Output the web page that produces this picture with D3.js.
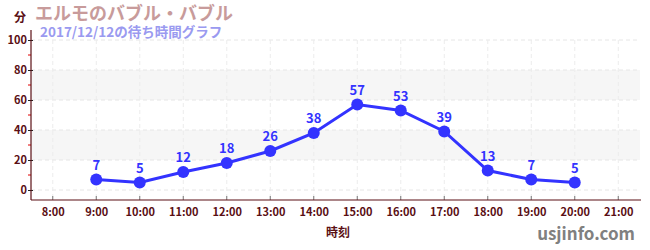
<!DOCTYPE html>
<html lang="ja">
<head>
<meta charset="UTF-8">
<title>待ち時間グラフ</title>
<script src="https://d3js.org/d3.v7.min.js"></script>
<style>
  body { margin: 0; background: #fff; }
  text { font-family: "Noto Sans CJK JP", "Noto Sans", sans-serif; font-weight: bold; }
</style>
</head>
<body>
<div id="container"></div>
<script>
  // data
  var hours = [9, 10, 11, 12, 13, 14, 15, 16, 17, 18, 19, 20];
  var waits = [7, 5, 12, 18, 26, 38, 57, 53, 39, 13, 7, 5];
  var hourTicks = [8, 9, 10, 11, 12, 13, 14, 15, 16, 17, 18, 19, 20, 21];
  var yTicks = [0, 20, 40, 60, 80, 100];
  var yMinor = [10, 30, 50, 70, 90];
  var bands = [[20, 40], [60, 80]];

  var width = 650, height = 250;
  var plot = { left: 31, right: 640, top: 40, bottom: 190, axis: 200 };
  var maroon = "#5a0f14", blue = "#3333ff";

  var svg = d3.select("#container").append("svg")
    .attr("width", width).attr("height", height);

  var x = d3.scaleLinear().domain([7.5, 21.5]).range([plot.left, plot.right]);
  var y = d3.scaleLinear().domain([0, 100]).range([plot.bottom, plot.top]);

  // bands
  svg.selectAll(".band").data(bands).enter().append("rect")
    .attr("x", plot.left).attr("width", plot.right - plot.left)
    .attr("y", d => y(d[1])).attr("height", d => y(d[0]) - y(d[1]))
    .attr("fill", "#f6f6f6");

  // grid
  svg.selectAll(".hgrid").data(yTicks).enter().append("line")
    .attr("x1", plot.left).attr("x2", plot.right)
    .attr("y1", d => y(d)).attr("y2", d => y(d))
    .attr("stroke", "#e6e6e6").attr("stroke-dasharray", "4,3");
  svg.selectAll(".vgrid").data(hourTicks).enter().append("line")
    .attr("x1", d => x(d)).attr("x2", d => x(d))
    .attr("y1", plot.top).attr("y2", plot.axis)
    .attr("stroke", "#ececec").attr("stroke-dasharray", "4,3");

  // y axis
  var yAxis = svg.append("g").attr("transform", "translate(" + plot.left + ",0)")
    .call(d3.axisLeft(y).tickValues(yTicks).tickSize(3).tickSizeOuter(0));
  yAxis.select(".domain").remove();
  yAxis.selectAll(".tick line").attr("x2", 2).attr("x1", -3).attr("stroke", "#222");
  yAxis.selectAll(".tick text").attr("fill", maroon).attr("font-size", 11)
    .attr("x", -4).style("font-family", "'Noto Sans CJK JP', sans-serif").style("font-weight", "bold");
  svg.selectAll(".minor").data(yMinor).enter().append("line")
    .attr("x1", plot.left - 3).attr("x2", plot.left)
    .attr("y1", d => y(d)).attr("y2", d => y(d))
    .attr("stroke", "#e00000");
  svg.append("line").attr("x1", plot.left).attr("x2", plot.left)
    .attr("y1", 30).attr("y2", plot.axis).attr("stroke", maroon).attr("stroke-width", 1.2);

  // x axis
  var xAxis = svg.append("g").attr("transform", "translate(0," + plot.axis + ")")
    .call(d3.axisBottom(x).tickValues(hourTicks).tickSize(0).tickPadding(8)
      .tickFormat(d => d + ":00"));
  xAxis.select(".domain").remove();
  xAxis.selectAll(".tick text").attr("fill", maroon).attr("font-size", 11)
    .style("font-family", "'Noto Sans CJK JP', sans-serif").style("font-weight", "bold");
  svg.selectAll(".xtick").data(hourTicks).enter().append("line")
    .attr("x1", d => x(d)).attr("x2", d => x(d))
    .attr("y1", plot.axis - 4).attr("y2", plot.axis)
    .attr("stroke", "#777");
  svg.append("line").attr("x1", plot.left).attr("x2", plot.right + 1)
    .attr("y1", plot.axis).attr("y2", plot.axis).attr("stroke", maroon).attr("stroke-width", 1.2);

  // line + points
  var pts = hours.map((h, i) => [h, waits[i]]);
  svg.append("path").datum(pts)
    .attr("d", d3.line().x(d => x(d[0])).y(d => y(d[1])))
    .attr("fill", "none").attr("stroke", blue).attr("stroke-width", 3);
  svg.selectAll(".pt").data(pts).enter().append("circle")
    .attr("cx", d => x(d[0])).attr("cy", d => y(d[1])).attr("r", 6)
    .attr("fill", blue);
  svg.selectAll(".lbl").data(pts).enter().append("text")
    .attr("x", d => x(d[0])).attr("y", d => y(d[1]) - 10)
    .attr("text-anchor", "middle").attr("font-size", 13).attr("fill", blue)
    .text(d => d[1]);

  // titles
  svg.append("text").attr("x", 14).attr("y", 22).attr("font-size", 12)
    .attr("fill", maroon).text("分");
  svg.append("text").attr("x", 35).attr("y", 20).attr("font-size", 18)
    .attr("fill", "#c89b9b").text("エルモのバブル・バブル");
  svg.append("text").attr("x", 40).attr("y", 37).attr("font-size", 13.5)
    .attr("fill", "#9a9af0").text("2017/12/12の待ち時間グラフ");
  svg.append("text").attr("x", 338).attr("y", 237).attr("text-anchor", "middle")
    .attr("font-size", 12).attr("fill", maroon).text("時刻");
  svg.append("text").attr("x", 635).attr("y", 240).attr("text-anchor", "end")
    .attr("font-size", 17).attr("fill", "#808080").text("usjinfo.com");
</script>
</body>
</html>
